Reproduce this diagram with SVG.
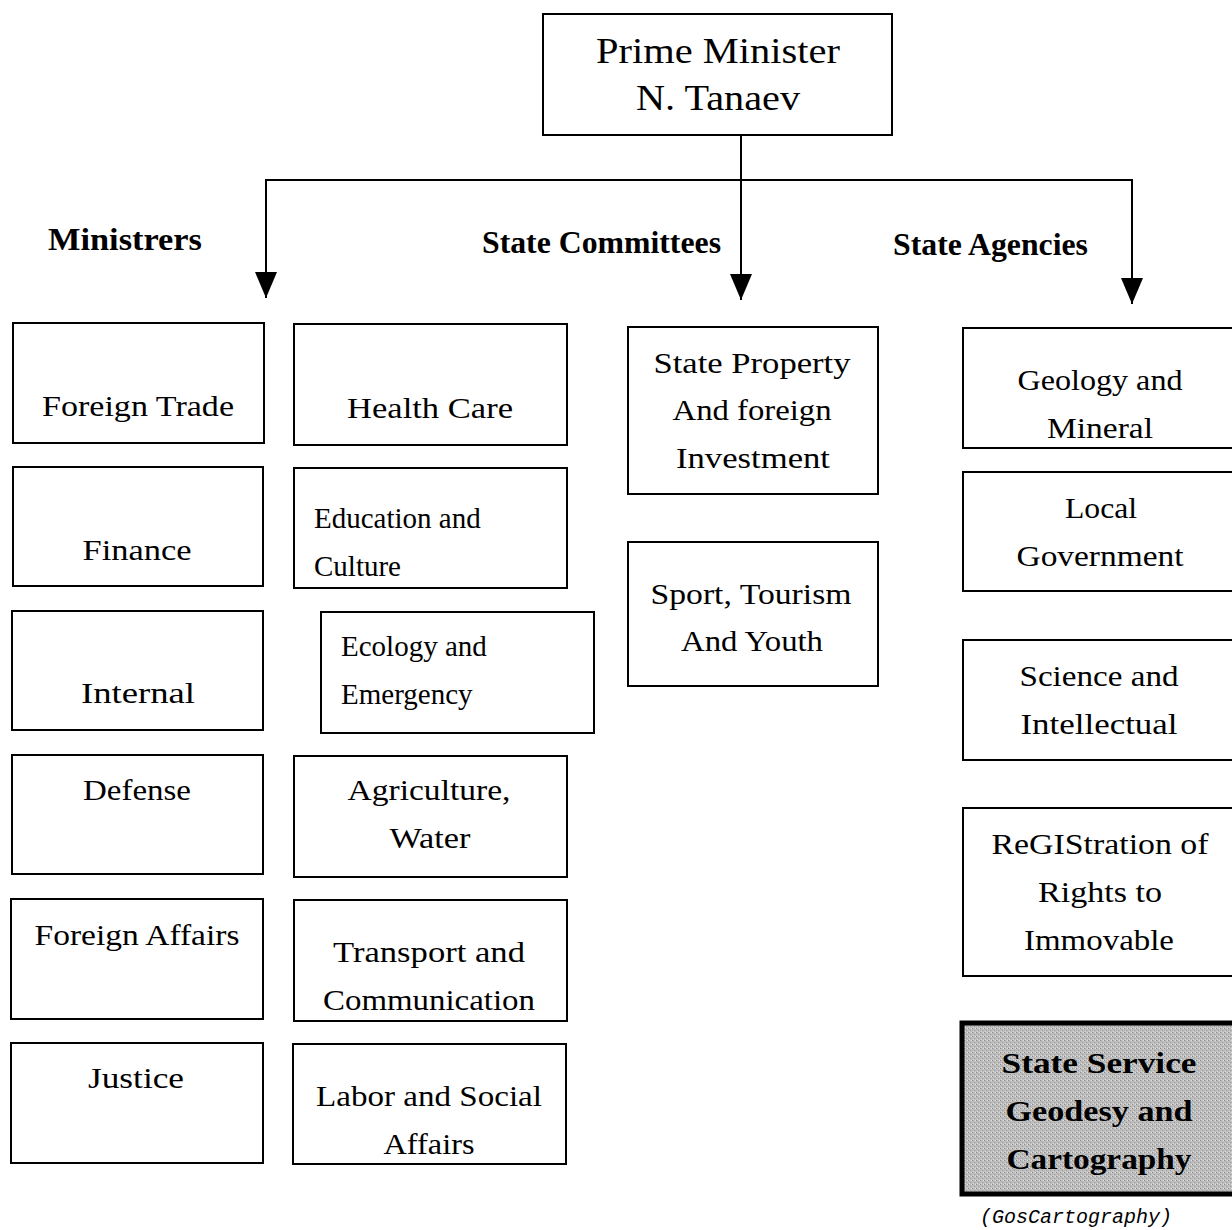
<svg xmlns="http://www.w3.org/2000/svg" width="1232" height="1230" viewBox="0 0 1232 1230">
<style>
.box{fill:#fff;stroke:#000;stroke-width:2}
.t{font-family:"Liberation Serif","Times New Roman",serif;font-size:29px;fill:#000;text-anchor:middle}
.l{text-anchor:start}
.h{font-family:"Liberation Serif","Times New Roman",serif;font-size:31px;font-weight:bold;fill:#000}
.pm{font-family:"Liberation Serif","Times New Roman",serif;font-size:35px;fill:#000;text-anchor:middle}
.b{font-weight:bold}
.conn{fill:none;stroke:#000;stroke-width:2}
.cap{font-family:"Liberation Mono","Courier New",monospace;font-style:italic;font-size:20px;fill:#000}
</style>
<defs>
<marker id="arr" markerUnits="userSpaceOnUse" markerWidth="26" markerHeight="22" viewBox="0 0 26 22" refX="26" refY="11" orient="auto">
<path d="M0,0 L26,11 L0,22 z" fill="#000"/>
</marker>
<pattern id="grain" width="4" height="4" patternUnits="userSpaceOnUse">
<rect width="4" height="4" fill="#bdbdbd"/>
<rect x="0" y="0" width="1" height="1" fill="#8a8a8a"/>
<rect x="2" y="2" width="1" height="1" fill="#9a9a9a"/>
<rect x="3" y="0" width="1" height="1" fill="#e0e0e0"/>
<rect x="1" y="3" width="1" height="1" fill="#d8d8d8"/>
</pattern>
</defs>
<rect width="1232" height="1230" fill="#fff"/>

<g id="connectors">
<path class="conn" d="M741,135 V300" marker-end="url(#arr)"/>
<path class="conn" d="M266,180 H1132"/>
<path class="conn" d="M266,179 V298" marker-end="url(#arr)"/>
<path class="conn" d="M1132,179 V304" marker-end="url(#arr)"/>
</g>

<g id="prime-minister">
<rect class="box" x="543" y="14" width="349" height="121"/>
<text class="pm" x="718" y="63" textLength="244" lengthAdjust="spacingAndGlyphs">Prime Minister</text>
<text class="pm" x="718" y="110" textLength="164" lengthAdjust="spacingAndGlyphs">N. Tanaev</text>
</g>

<g id="headings">
<text class="h" x="48" y="250" textLength="154" lengthAdjust="spacingAndGlyphs">Ministrers</text>
<text class="h" x="482" y="253" textLength="239" lengthAdjust="spacingAndGlyphs">State Committees</text>
<text class="h" x="893" y="255" textLength="195" lengthAdjust="spacingAndGlyphs">State Agencies</text>
</g>

<g id="foreign-trade">
<rect class="box" x="13" y="323" width="251" height="120"/>
<text class="t" x="138" y="416" textLength="192" lengthAdjust="spacingAndGlyphs">Foreign Trade</text>
</g>
<g id="finance">
<rect class="box" x="13" y="467" width="250" height="119"/>
<text class="t" x="137" y="560" textLength="109" lengthAdjust="spacingAndGlyphs">Finance</text>
</g>
<g id="internal">
<rect class="box" x="12" y="611" width="251" height="119"/>
<text class="t" x="138" y="703" textLength="114" lengthAdjust="spacingAndGlyphs">Internal</text>
</g>
<g id="defense">
<rect class="box" x="12" y="755" width="251" height="119"/>
<text class="t" x="137" y="800" textLength="108" lengthAdjust="spacingAndGlyphs">Defense</text>
</g>
<g id="foreign-affairs">
<rect class="box" x="11" y="899" width="252" height="120"/>
<text class="t" x="137" y="945" textLength="205" lengthAdjust="spacingAndGlyphs">Foreign Affairs</text>
</g>
<g id="justice">
<rect class="box" x="11" y="1043" width="252" height="120"/>
<text class="t" x="136" y="1088" textLength="96" lengthAdjust="spacingAndGlyphs">Justice</text>
</g>

<g id="health-care">
<rect class="box" x="294" y="324" width="273" height="121"/>
<text class="t" x="430" y="418" textLength="166" lengthAdjust="spacingAndGlyphs">Health Care</text>
</g>
<g id="education-culture">
<rect class="box" x="294" y="468" width="273" height="120"/>
<text class="t l" x="314" y="528">Education and</text>
<text class="t l" x="314" y="576">Culture</text>
</g>
<g id="ecology-emergency">
<rect class="box" x="321" y="612" width="273" height="121"/>
<text class="t l" x="341" y="656">Ecology and</text>
<text class="t l" x="341" y="704">Emergency</text>
</g>
<g id="agriculture-water">
<rect class="box" x="294" y="756" width="273" height="121"/>
<text class="t" x="429" y="800" textLength="163" lengthAdjust="spacingAndGlyphs">Agriculture,</text>
<text class="t" x="430" y="848" textLength="81" lengthAdjust="spacingAndGlyphs">Water</text>
</g>
<g id="transport-communication">
<rect class="box" x="294" y="900" width="273" height="121"/>
<text class="t" x="429" y="962" textLength="192" lengthAdjust="spacingAndGlyphs">Transport and</text>
<text class="t" x="429" y="1010" textLength="212" lengthAdjust="spacingAndGlyphs">Communication</text>
</g>
<g id="labor-social-affairs">
<rect class="box" x="293" y="1044" width="273" height="120"/>
<text class="t" x="429" y="1106" textLength="226" lengthAdjust="spacingAndGlyphs">Labor and Social</text>
<text class="t" x="429" y="1154" textLength="91" lengthAdjust="spacingAndGlyphs">Affairs</text>
</g>

<g id="state-property">
<rect class="box" x="628" y="327" width="250" height="167"/>
<text class="t" x="752" y="373" textLength="197" lengthAdjust="spacingAndGlyphs">State Property</text>
<text class="t" x="752" y="420" textLength="159" lengthAdjust="spacingAndGlyphs">And foreign</text>
<text class="t" x="753" y="468" textLength="154" lengthAdjust="spacingAndGlyphs">Investment</text>
</g>
<g id="sport-tourism-youth">
<rect class="box" x="628" y="542" width="250" height="144"/>
<text class="t" x="751" y="604" textLength="201" lengthAdjust="spacingAndGlyphs">Sport, Tourism</text>
<text class="t" x="752" y="651" textLength="142" lengthAdjust="spacingAndGlyphs">And Youth</text>
</g>

<g id="geology-mineral">
<rect class="box" x="963" y="328" width="290" height="120"/>
<text class="t" x="1100" y="390" textLength="165" lengthAdjust="spacingAndGlyphs">Geology and</text>
<text class="t" x="1100" y="438" textLength="106" lengthAdjust="spacingAndGlyphs">Mineral</text>
</g>
<g id="local-government">
<rect class="box" x="963" y="472" width="290" height="119"/>
<text class="t" x="1101" y="518" textLength="72" lengthAdjust="spacingAndGlyphs">Local</text>
<text class="t" x="1100" y="566" textLength="167" lengthAdjust="spacingAndGlyphs">Government</text>
</g>
<g id="science-intellectual">
<rect class="box" x="963" y="640" width="290" height="120"/>
<text class="t" x="1099" y="686" textLength="159" lengthAdjust="spacingAndGlyphs">Science and</text>
<text class="t" x="1099" y="734" textLength="157" lengthAdjust="spacingAndGlyphs">Intellectual</text>
</g>
<g id="registration-rights">
<rect class="box" x="963" y="808" width="290" height="168"/>
<text class="t" x="1100" y="854" textLength="217" lengthAdjust="spacingAndGlyphs">ReGIStration of</text>
<text class="t" x="1100" y="902" textLength="124" lengthAdjust="spacingAndGlyphs">Rights to</text>
<text class="t" x="1099" y="950" textLength="150" lengthAdjust="spacingAndGlyphs">Immovable</text>
</g>
<g id="state-service-geodesy">
<rect x="962" y="1023" width="290" height="171" fill="url(#grain)" stroke="#000" stroke-width="5"/>
<text class="t b" x="1099" y="1073" textLength="195" lengthAdjust="spacingAndGlyphs">State Service</text>
<text class="t b" x="1099" y="1121" textLength="187" lengthAdjust="spacingAndGlyphs">Geodesy and</text>
<text class="t b" x="1099" y="1169" textLength="185" lengthAdjust="spacingAndGlyphs">Cartography</text>
<text class="cap" x="980" y="1223" textLength="192" lengthAdjust="spacingAndGlyphs">(GosCartography)</text>
</g>
</svg>
